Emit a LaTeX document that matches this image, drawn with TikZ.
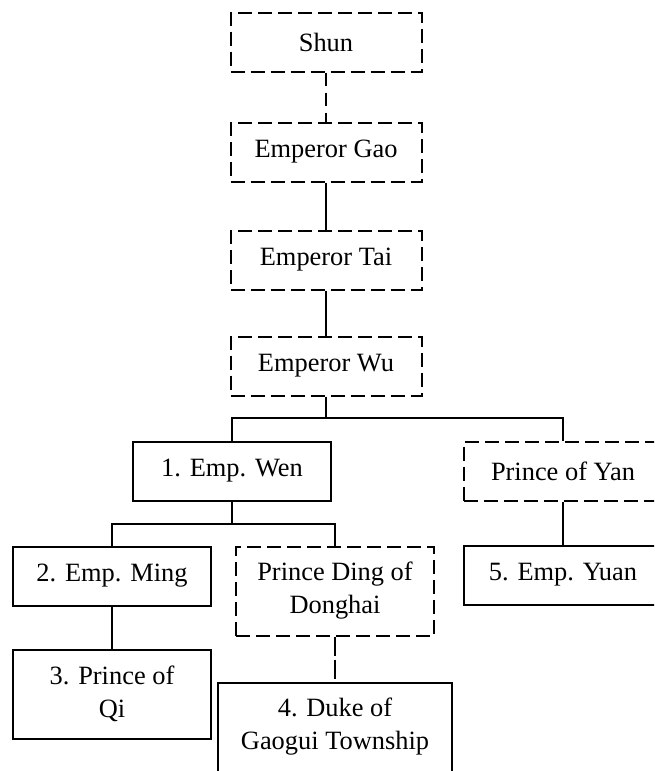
\documentclass[tikz,border=0pt]{standalone}
\usepackage{fontspec}
\setmainfont{Liberation Serif}

\begin{document}
\begin{tikzpicture}[
        x = 1pt, y = 1pt, % one unit is one pixel of the page
        node distance = 105pt, % distance between centres
        line width = 2pt % line style
    ]

    \useasboundingbox (0,0) rectangle (654,-771);
    \clip (0,0) rectangle (654,-771);

    \tikzstyle{every node}=[draw = black, rectangle, inner sep = 2pt,
    minimum width = 191pt, minimum height = 59pt, align = center,
    font = \fontsize{26.4}{33}\selectfont]
    \tikzstyle{dashbox}=[dash pattern = on 14pt off 6pt]
    \tikzstyle{wide}=[minimum width = 198pt]
    \tikzstyle{tall}=[minimum height = 89pt]

    % line of the ancestors
    \node (shun) [dashbox] at (326,-42) {Shun};
    \node (gao) [dashbox, below of=shun, node distance=110pt] {Emperor Gao};
    \node (tai) [dashbox, below of=gao, node distance=108pt] {Emperor Tai};
    \node (wu) [dashbox, below of=tai, node distance=106pt] {Emperor Wu};

    % sons and grandsons
    \node (wen) [wide, below of=wu, xshift=-94pt] {1. Emp. Wen};
    \node (yan) [wide, dashbox, below of=wu, xshift=237pt] {Prince of Yan};
    \node (ming) [wide, below of=wen, xshift=-120pt] {2. Emp. Ming};
    \node (ding) [wide, tall, dashbox, below of=wen, node distance=120pt,
    xshift=103pt] {Prince Ding of\\Donghai};
    \node (yuan) [wide, below of=yan, node distance=104pt] {5. Emp. Yuan};
    \node (qi) [wide, tall, below of=ming, node distance=118pt] {3. Prince of\\Qi};
    \node (duke) [tall, minimum width=234pt, below of=ding, node distance=136pt]
    {4. Duke of\\Gaogui Township};

    \path[dash pattern = on 13pt off 7pt] (shun) edge (gao);
    \path (gao) edge (tai); \path (tai) edge (wu);
    \draw (wu.south) -- ++(0,-21) -| (wen.north);
    \draw (wu.south) -- ++(0,-21) -| (yan.north);
    \draw (wen.south) -- ++(0,-22) -| (ming.north);
    \draw (wen.south) -- ++(0,-22) -| (ding.north);
    \path (yan) edge (yuan); \path (ming) edge (qi);
    \path[dash pattern = on 19pt off 4pt] (ding) edge (duke);

\end{tikzpicture}
\end{document}
